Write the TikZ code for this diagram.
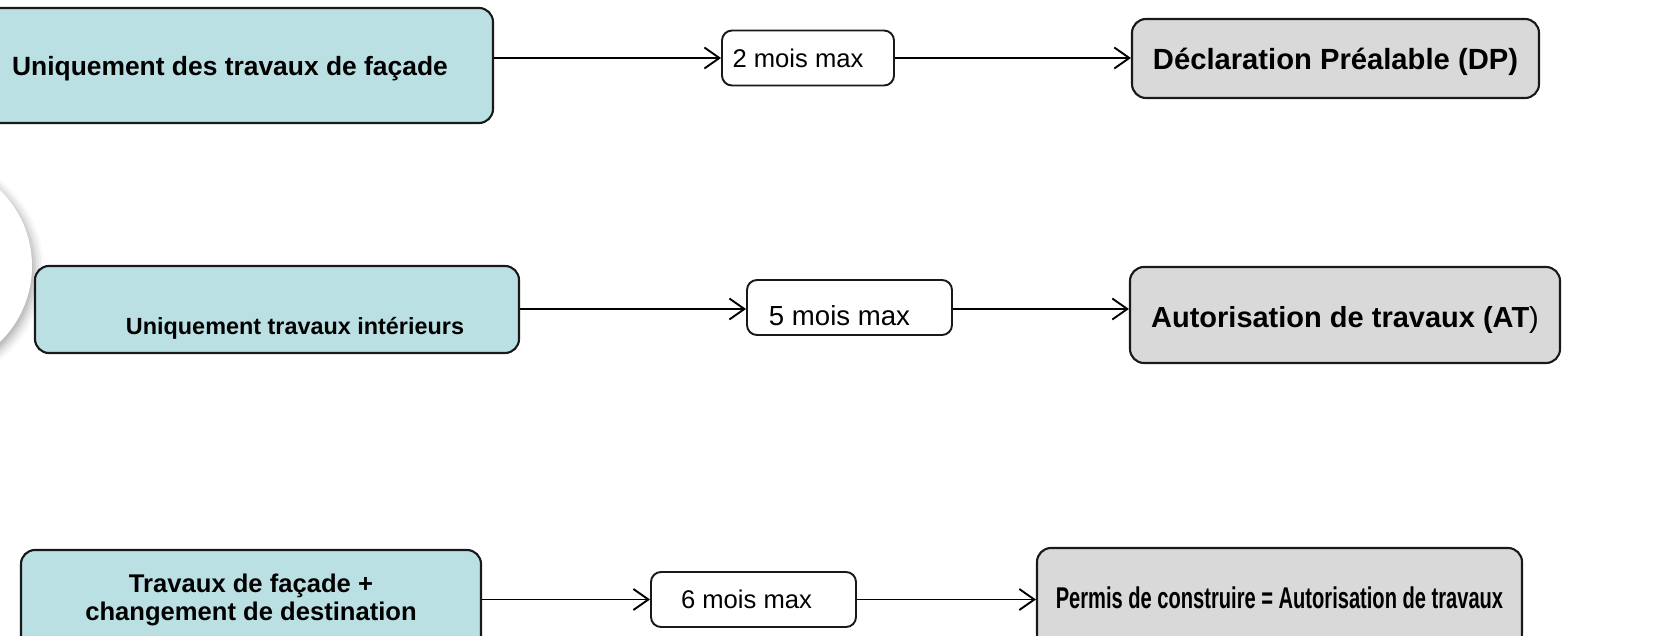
\documentclass[tikz,border=0pt]{standalone}
\usepackage{fontspec}
\setmainfont{Liberation Sans}
\usepackage{tikz}
\usetikzlibrary{arrows.meta}
\usetikzlibrary{shadows.blur}
\definecolor{casfill}{RGB}{186,224,227}
\definecolor{procfill}{RGB}{217,217,217}
\newcommand{\taille}[1]{\fontsize{#1}{1.1\dimexpr#1pt\relax}\selectfont}
% decale le texte (dx, dy) sans changer la boite
\newcommand{\decale}[3]{\raisebox{#2}[\height][\depth]{\kern#1\relax#3\kern-#1\relax}}

\begin{document}
\begin{tikzpicture}[x=1pt,y=-1pt,
		cas/.style={draw=black!90,line width=2.1pt,fill=casfill,rounded corners=14pt,inner sep=0pt,align=center},
		delai/.style={draw=black!90,line width=1.9pt,fill=white,rounded corners=10pt,inner sep=0pt},
		proc/.style={draw=black!90,line width=2.1pt,fill=procfill,rounded corners=14pt,inner sep=0pt},
		fleche/.style={line width=1.9pt,-{Straight Barb[length=15pt,width=21pt]}}]
	\useasboundingbox (0,0) rectangle (1676,636);
	% cercle a gauche
	\fill[white,blur shadow={shadow xshift=3pt,shadow yshift=-4pt,shadow blur radius=9pt,shadow opacity=35}] (-74,266) circle (106pt);
	% cas
	\node[cas,minimum width=526pt,minimum height=115pt,font={\bfseries\taille{26.4}}] (facade) at (230,65.5) {\decale{0pt}{-3pt}{Uniquement des travaux de façade}};
	\node[cas,minimum width=484pt,minimum height=87pt,font={\bfseries\taille{23.4}}] (interieur) at (277,309.5) {\decale{18pt}{-19pt}{Uniquement travaux intérieurs}};
	\node[cas,minimum width=460pt,minimum height=100pt,font={\bfseries\taille{25.6}}] (destination) at (251,600) {Travaux de façade +\\changement de destination};
	% delais
	\node[delai,minimum width=172pt,minimum height=55pt,font=\taille{25.6}] (mois2) at (808,58) {\decale{-10pt}{0pt}{2 mois max}};
	\node[delai,minimum width=205pt,minimum height=55pt,font=\taille{27.6}] (mois5) at (849.5,307.5) {\decale{-10pt}{-8pt}{5 mois max}};
	\node[delai,minimum width=205pt,minimum height=55pt,font=\taille{25.6}] (mois6) at (753.5,599.5) {\decale{-7pt}{0pt}{6 mois max}};
	% procedures
	\node[proc,minimum width=407pt,minimum height=79pt,font={\bfseries\taille{29.2}}] (dp) at (1335.5,58.5) {\decale{0pt}{-3pt}{Déclaration Préalable (DP)}};
	\node[proc,minimum width=430pt,minimum height=96pt,font=\taille{29}] (at) at (1345,315) {\decale{0pt}{-5pt}{{\bfseries Autorisation de travaux (AT})}};
	\node[proc,minimum width=485pt,minimum height=100pt,font={\bfseries\taille{30}}] (pc) at (1279.5,598) {\scalebox{0.67}[1]{Permis de construire = Autorisation de travaux}};
	% fleches
	\draw[fleche] (facade.east |- mois2.west) -- (mois2.west);
	\draw[fleche] (mois2.east) -- (mois2.east -| dp.west);
	\draw[fleche] (interieur.east |- 0,309) -- (mois5.west |- 0,309);
	\draw[fleche] (mois5.east |- 0,309) -- (at.west |- 0,309);
	\draw[fleche] (destination.east |- mois6.west) -- (mois6.west);
	\draw[fleche] (mois6.east) -- (mois6.east -| pc.west);
\end{tikzpicture}
\end{document}
